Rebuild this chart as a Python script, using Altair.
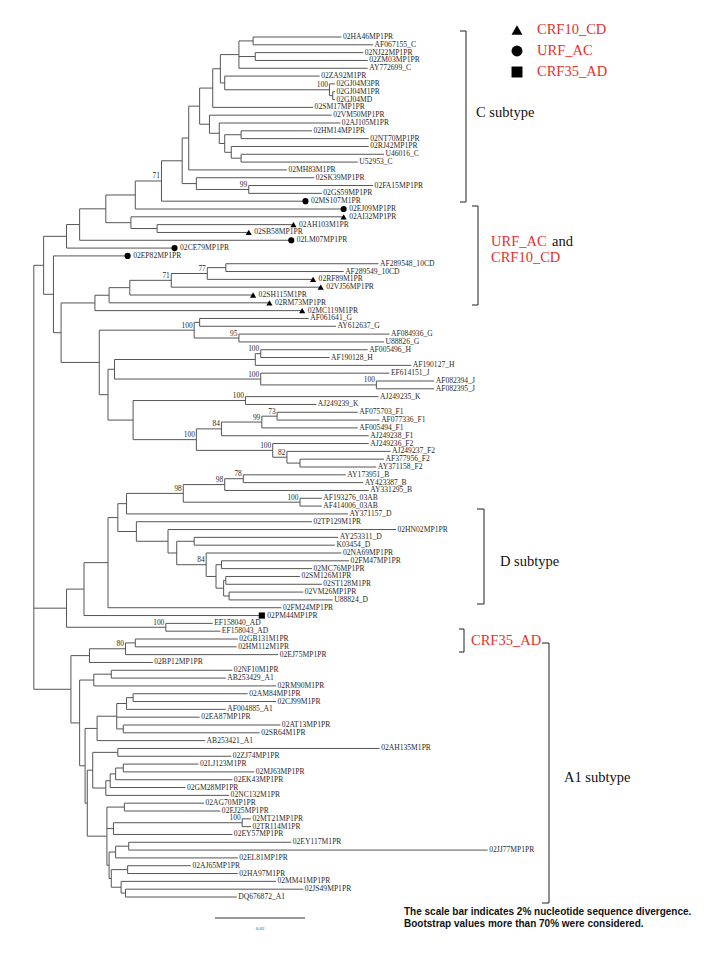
import re
import altair as alt
import pandas as pd

# ---------------- data ----------------
# Custom Newick: value after ':' = distance of the node from the left edge (tree units,
# 82.5 units = 0.02 substitutions/site); '#t/#c/#s' = marker (CRF10_CD / URF_AC / CRF35_AD);
# label after ')' = bootstrap support.
c_A = "(02HA46MP1PR:313,AF067155_C:342):232"
c_B = "(02NJ22MP1PR:333,02ZM03MP1PR:337):234"
c_GJ = "(02GJ04M3PR:307,(02GJ04M1PR:307,02GJ04MD:307):305)100:302"
c_Cupper = f"(({c_A},{c_B},AY772699_C:337):219,(02ZA92M1PR:293,{c_GJ}):206):202"
c_Clower = ("(02VM50MP1PR:304,(02AJ105M1PR:312,((02HM14MP1PR:286,02NT70MP1PR:338):221,"
            "(02RJ42MP1PR:338,(U46016_C:352,U52953_C:328):221):212):206):201):192")
clade_C = (f"((((({c_Cupper},02SM17MP1PR:287):195,{c_Clower}):183,02MH83M1PR:263):173,"
           "(02SK39MP1PR:288,(02FA15MP1PR:342,02GS59MP1PR:295)99:228):180):167,02MS107M1PR#c:280)71:148")
clade_URF = (f"((({clade_C},02EJ09MP1PR#c:315):124,(02AI32MP1PR#t:315,"
             "(02AH103M1PR#t:269,02SB58MP1PR#t:228):144):120):97,02LM07MP1PR#c:267):73")
clade_10CD = ("((((((AF289548_10CD:347,AF289549_10CD:315):207,02RF89M1PR#t:287)77:190,"
              "02VJ56MP1PR#t:294)71:157,02SH115M1PR#t:232):119,02RM73MP1PR#t:247):100,02MC119M1PR#t:277):87")
clade_G = "((AF061641_G:283,AY612637_G:308):183,(AF084936_G:357,U88826_G:352)95:219)100:178"
clade_HJ = ("(((AF005496_H:337,AF190128_H:302)100:239,AF190127_H:377):234,"
            "(EF614151_J:357,(AF082394_J:398,AF082395_J:398)100:345)100:239):105")
clade_KF = ("((AJ249235_K:347,AJ249239_K:290)100:225,((((AF075703_F1:328,AF077336_F1:348)73:254,"
            "AF005494_F1:328)99:240,AJ249238_F1:338)84:203,(AJ249236_F2:338,(AJ249237_F2:358,"
            "(AF377956_F2:352,AY371158_F2:345):275)82:263)100:250)100:180):122")
clade_GF = f"({clade_10CD},({clade_G},({clade_HJ},{clade_KF}):99):91):56"
clade_top = f"(({clade_URF},02CE79MP1PR#c:160):61,(02EP82MP1PR#c:117,{clade_GF}):49):40"
clade_BD = ("(((((AY173951_B:317,AY423387_B:333)78:223,AY331295_B:338)98:206,"
            "(AF193276_03AB:295,AF414006_03AB:295)100:275)98:168,AY371157_D:319):116,"
            "(02TP129M1PR:286,(02HN02MP1PR:363,((AY253311_D:310,K03454_D:307):178,"
            "(02NA69MP1PR:313,((02FM47MP1PR:320,02MC76MP1PR:286):203,((02SM126M1PR:275,"
            "02ST128M1PR:295):207,(02VM26MP1PR:278,U88824_D:305):210):205):198)84:189):162):154):125):108")
clade_mid = (f"((({clade_BD},02FM24MP1PR:258):99,02PM44MP1PR#s:240):77,"
             "(EF158040_AD:195,EF158043_AD:202)100:152):61")
a_35 = "(((02GB131M1PR:218,02HM112M1PR:217):124,02EJ75MP1PR:255)80:115,02BP12MP1PR:140):82"
a_1 = "((02NF10M1PR:213,AB253429_A1:207):102,02RM90M1PR:253):86"
a_2 = ("((((02AM84MP1PR:227,02CJ99M1PR:253):122,AF004885_A1:207):116,02EA87MP1PR:183,"
       "(02AT13MP1PR:257,02SR64M1PR:238):113):107,AB253421_A1:188):89")
a_3 = ("((02AH135M1PR:348,02ZJ74MP1PR:212):108,((((02LJ123M1PR:182,02MJ63MP1PR:233):113,"
       "02EK43MP1PR:213):106,02GM28MP1PR:170):101,02NC132M1PR:210):97):85")
a_4 = ("((02AG70MP1PR:187,02EJ25MP1PR:202):114,((02MT21MP1PR:230,02TR114M1PR:230)100:222,"
       "02EY57MP1PR:213):104,(((02EY117M1PR:267,02JJ77MP1PR:447):118,02EL81MP1PR:218):106,"
       "((02AJ65MP1PR:175,02HA97M1PR:218):117,(02MM41MP1PR:253,(02JS49MP1PR:278,"
       "DQ676872_A1:217):115):111):102):100):98")
clade_A1 = f"({a_35},({a_1},({a_2},({a_3},{a_4}):80):78):73):65"
tree_newick = f"({clade_top},{clade_mid},{clade_A1}):31"

legend_names = ["CRF10_CD", "URF_AC", "CRF35_AD"]
legend_marks = ["t", "c", "s"]
scale_bar_value = 0.02
units_per_subst = 82.5 / 0.02

# ---------------- parse & layout ----------------
def parse_newick(s):
    pos = 0

    def token():
        nonlocal pos
        m = re.match(r"[^:,()]*", s[pos:])
        pos += len(m.group(0))
        return m.group(0)

    def length():
        nonlocal pos
        assert s[pos] == ":"
        pos += 1
        m = re.match(r"[0-9.]+", s[pos:])
        pos += len(m.group(0))
        return float(m.group(0))

    def node():
        nonlocal pos
        if s[pos] == "(":
            pos += 1
            kids = [node()]
            while s[pos] == ",":
                pos += 1
                kids.append(node())
            assert s[pos] == ")"
            pos += 1
            lab = token()
            return {"kids": kids, "bs": lab, "x": length()}
        name = token()
        mk = None
        if "#" in name:
            name, mk = name.split("#")
        return {"name": name, "mk": mk, "x": length()}

    return node()


root = parse_newick(tree_newick)
segs, leaves, boots = [], [], []
count = [0]


def layout(n, px):
    if "name" in n:
        n["y"] = count[0]
        count[0] += 1
        leaves.append({"name": n["name"], "x": n["x"], "y": n["y"], "mk": n["mk"] or ""})
    else:
        for k in n["kids"]:
            layout(k, n["x"])
        n["y"] = (n["kids"][0]["y"] + n["kids"][-1]["y"]) / 2
        segs.append({"x": n["x"], "x2": n["x"], "y": n["kids"][0]["y"], "y2": n["kids"][-1]["y"]})
        if n["bs"]:
            boots.append({"x": n["x"], "y": n["y"], "t": n["bs"]})
    if px is not None:
        segs.append({"x": px, "x2": n["x"], "y": n["y"], "y2": n["y"]})


layout(root, None)
seg_df = pd.DataFrame(segs)
leaf_df = pd.DataFrame(leaves)
boot_df = pd.DataFrame(boots)

# ---------------- scales ----------------
K = 3 / 2.75                     # px per tree unit
Y0, DY = 37.0, (897 - 37) / (len(leaves) - 1)
XD = [8 / K, 712 / K]
YD = [(8 - Y0) / DY, (952 - Y0) / DY]


def ax(p):
    return p / K


def ay(p):
    return (p - Y0) / DY


X = lambda f="x": alt.X(f"{f}:Q", scale=alt.Scale(domain=XD, nice=False, zero=False), axis=None)
Y = lambda f="y": alt.Y(f"{f}:Q", scale=alt.Scale(domain=YD, nice=False, zero=False, reverse=True), axis=None)

LINE = "#555555"
TXT = "#2a2a2a"
RED = "#e5302c"
SERIF = "Liberation Serif"
shape_scale = alt.Scale(domain=["t", "c", "s"], range=["triangle-up", "circle", "square"])

branches = alt.Chart(seg_df).mark_rule(color=LINE, strokeWidth=1).encode(
    x=X(), x2="x2:Q", y=Y(), y2="y2:Q")

plain = alt.Chart(leaf_df[leaf_df.mk == ""]).mark_text(
    align="left", baseline="middle", dx=1.5, font=SERIF, fontSize=7.6, color=TXT).encode(
    x=X(), y=Y(), text="name:N")
marked = alt.Chart(leaf_df[leaf_df.mk != ""]).mark_text(
    align="left", baseline="middle", dx=5.5, font=SERIF, fontSize=7.6, color=TXT).encode(
    x=X(), y=Y(), text="name:N")
markers = alt.Chart(leaf_df[leaf_df.mk != ""]).mark_point(
    filled=True, opacity=1, color="black", size=38).encode(
    x=X(), y=Y(), shape=alt.Shape("mk:N", scale=shape_scale, legend=None))
bootstrap = alt.Chart(boot_df).mark_text(
    align="right", baseline="bottom", dx=-1.5, dy=-0.5, font=SERIF, fontSize=7.4, color=TXT).encode(
    x=X(), y=Y(), text="t:N")

# ---------------- annotations ----------------
br = []
for (bx, y1, y2, w) in [(466, 31, 202, 6), (478, 206, 305, 6), (484, 509, 604, 7),
                        (464, 629, 652, 5), (549, 643, 903, 7)]:
    br.append({"x": ax(bx), "x2": ax(bx), "y": ay(y1), "y2": ay(y2)})
    br.append({"x": ax(bx - w), "x2": ax(bx), "y": ay(y1), "y2": ay(y1)})
    br.append({"x": ax(bx - w), "x2": ax(bx), "y": ay(y2), "y2": ay(y2)})
sb_x0 = ax(215)
br.append({"x": sb_x0, "x2": sb_x0 + scale_bar_value * units_per_subst, "y": ay(918), "y2": ay(918)})
brackets = alt.Chart(pd.DataFrame(br)).mark_rule(color="#333333", strokeWidth=1.1).encode(
    x=X(), x2="x2:Q", y=Y(), y2="y2:Q")

def txt(rows, color, size, font=SERIF, weight="normal", align="left"):
    df = pd.DataFrame([{"x": ax(a), "y": ay(b), "t": t} for a, b, t in rows])
    return alt.Chart(df).mark_text(align=align, baseline="middle", font=font, fontSize=size,
                                   fontWeight=weight, color=color).encode(x=X(), y=Y(), text="t:N")

LEG_Y = [30, 51, 72]
red_text = txt([(537, LEG_Y[0], legend_names[0]), (537, LEG_Y[1], legend_names[1]),
                (537, LEG_Y[2], legend_names[2]),
                (491, 242, "URF_AC"), (491, 258, "CRF10_CD"), (471, 641, "CRF35_AD")], RED, 14.5)
black_text = txt([(476, 113, "C subtype"), (552, 242, "and"), (500, 562, "D subtype"),
                  (564, 778, "A1 subtype")], "#111111", 14.5)
scale_lbl = txt([(260, 928, f"{scale_bar_value:.2f}")], "#444444", 5, align="center")
foot = txt([(404, 912, "The scale bar indicates 2% nucleotide sequence divergence."),
            (404, 924, "Bootstrap values more than 70% were considered.")],
           "#111111", 10, font="Liberation Sans", weight="bold")

leg_df = pd.DataFrame({"x": [ax(517)] * 3, "y": [ay(v) for v in LEG_Y], "mk": legend_marks})
legend_marks_layer = alt.Chart(leg_df).mark_point(filled=True, opacity=1, color="black", size=120).encode(
    x=X(), y=Y(), shape=alt.Shape("mk:N", scale=shape_scale, legend=None))

chart = alt.layer(branches, plain, marked, markers, bootstrap, brackets, red_text, black_text,
                  scale_lbl, foot, legend_marks_layer).properties(
    width=704, height=944,
    autosize=alt.AutoSizeParams(type="fit", contains="padding"),
    padding=0, background="white",
).configure_view(stroke=None)

chart.save("out.html", embed_options={"renderer": "svg", "actions": False})
